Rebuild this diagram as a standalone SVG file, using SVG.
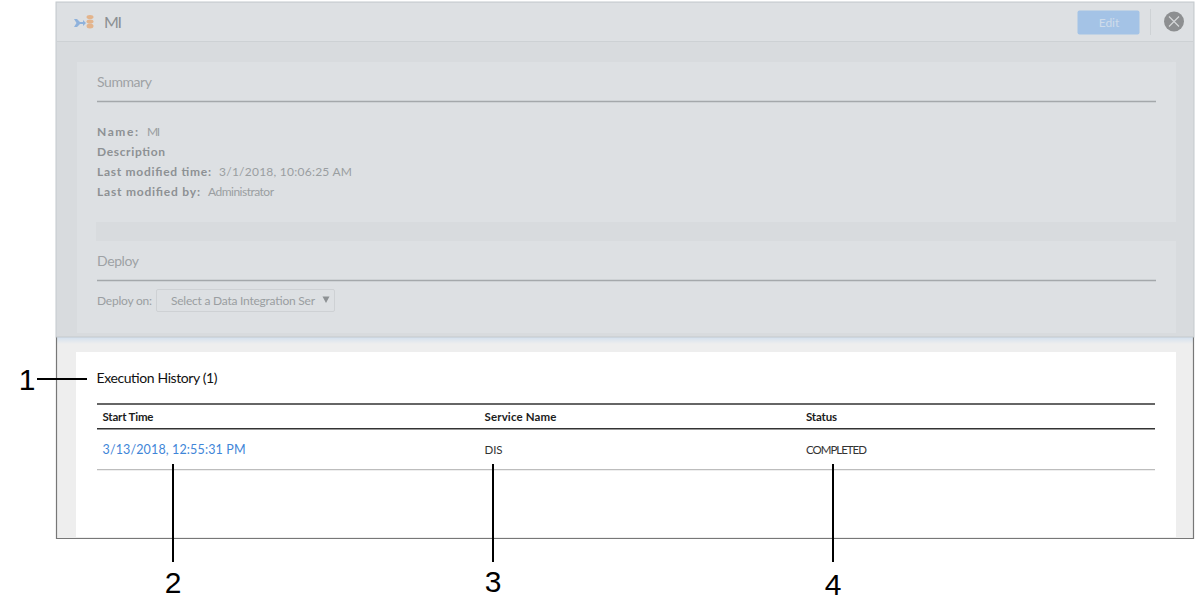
<svg xmlns="http://www.w3.org/2000/svg" width="1200" height="615" viewBox="0 0 1200 615">
<defs>
<linearGradient id="glow" x1="0" y1="0" x2="0" y2="1"><stop offset="0" stop-color="#d3e0ee"/><stop offset="1" stop-color="#eeeeee"/></linearGradient>
</defs>
<style>
text{font-family:"Lato","Liberation Sans",sans-serif}
.num{font-family:"Liberation Sans",Arial,sans-serif;font-size:30px;fill:#000;text-anchor:middle}
.faded{fill:#9a9ea1;font-size:12px}
.fadedb{fill:#8d9194;font-size:12px;font-weight:700}
.head{fill:#9ea2a5;font-size:14px}
.th{fill:#1c1c1c;font-size:11.5px;font-weight:700}
.td{fill:#333;font-size:11.5px}
.rule{stroke-width:1.5;fill:none}
.lead{stroke:#000;stroke-width:2;fill:none}
</style>
<rect width="1200" height="615" fill="#fff"/>
<g id="page">
<rect x="57" y="337" width="1136" height="201" fill="#eeeeee"/>
<rect x="57" y="337" width="1136" height="7" fill="url(#glow)"/>
<rect x="76" y="352" width="1100" height="185" fill="#fff"/>
<path d="M56.500 337V538.500H1193.500V337" fill="none" stroke="#777" stroke-width="1.200"/>
</g>
<g id="panel">
<rect x="56" y="2" width="1138" height="335" fill="#d8dbde" stroke="#c4c9cd" stroke-width="1"/>
<rect x="57" y="3" width="1136" height="38" fill="#dde0e3"/>
<path d="M57 41.500H1193" stroke="#cdd1d4" stroke-width="1.200"/>
<rect x="77" y="62" width="1099" height="271" fill="#dde0e3"/>
<rect x="96" y="222" width="1080" height="19" fill="#d8dbde"/>
</g>
<g id="title-icon">
<path d="M74 19h3l3 3h3v-2l3 3-3 3v-2h-3l-3 3h-3l2.500-4z" fill="#8fb2dc"/>
<ellipse cx="90" cy="17" rx="3.500" ry="2" fill="#e3b48c"/>
<ellipse cx="90" cy="21.500" rx="3.500" ry="2" fill="#e3b48c"/>
<ellipse cx="90" cy="26" rx="3.500" ry="2.500" fill="#e3b48c"/>
</g>
<g id="title"><text x="104" y="28" textLength="18" style="font-size:16px;fill:#8b8f92">MI</text></g>
<g id="edit-button">
<rect x="1077.500" y="10.500" width="62" height="24" rx="2" fill="#a4c3e6"/>
<text x="1109" y="27" text-anchor="middle" style="font-size:12px;fill:#cfdcea">Edit</text>
<path d="M1150.500 9V35" stroke="#ced2d5"/>
</g>
<g id="close-button">
<circle cx="1174" cy="21.500" r="10" fill="#8d8f91"/>
<path d="M1169 16.500l10 10M1179 16.500l-10 10" stroke="#d5d7d9" stroke-width="1.200"/>
</g>
<g id="summary">
<text class="head" x="97" y="87" textLength="55">Summary</text>
<path class="rule" d="M97 101.500H1156" stroke="#a4a8ab"/>
<text class="fadedb" x="97" y="136" textLength="41">Name:</text><text class="faded" x="147" y="136" textLength="13">MI</text>
<text class="fadedb" x="97" y="156" textLength="68">Description</text>
<text class="fadedb" x="97" y="176" textLength="114">Last modified time:</text><text class="faded" x="219" y="176" textLength="133">3/1/2018, 10:06:25 AM</text>
<text class="fadedb" x="97" y="196" textLength="103">Last modified by:</text><text class="faded" x="208" y="196" textLength="66">Administrator</text>
</g>
<g id="deploy">
<text class="head" x="97" y="266" textLength="42">Deploy</text>
<path class="rule" d="M97 280.500H1156" stroke="#a4a8ab"/>
<text class="faded" x="97" y="305" textLength="55">Deploy on:</text>
<rect x="156.500" y="289.500" width="178" height="22" rx="1.500" fill="#dde0e3" stroke="#ced1d4"/>
<text class="faded" x="171" y="305" textLength="144">Select a Data Integration Ser</text>
<path d="M322.500 296.500h7l-3.500 6.500z" fill="#8d9194"/>
</g>
<g id="execution-history">
<text x="96.500" y="383" textLength="121" style="font-size:14px;fill:#111">Execution History (1)</text>
<path class="rule" d="M97 404H1155" stroke="#333"/>
<path class="rule" d="M97 428.700H1155" stroke="#333"/>
<path d="M97 469.700H1155" stroke="#bdbdbd" stroke-width="1.200"/>
<text class="th" x="102.500" y="421" textLength="51">Start Time</text>
<text class="th" x="484.500" y="421" textLength="72">Service Name</text>
<text class="th" x="806" y="421" textLength="31">Status</text>
<text x="102.500" y="454" textLength="143" style="font-size:12.500px;fill:#3f86d8">3/13/2018, 12:55:31 PM</text>
<text class="td" x="484.500" y="454" textLength="18">DIS</text>
<text class="td" x="806" y="454" textLength="61">COMPLETED</text>
</g>
<g id="connectors">
<path class="lead" d="M37 379H87"/>
<path class="lead" d="M173 464V562"/>
<path class="lead" d="M493 464V562"/>
<path class="lead" d="M833 464V562"/>
</g>
<g id="callouts">
<text class="num" x="27" y="390">1</text>
<text class="num" x="173" y="593">2</text>
<text class="num" x="493" y="592">3</text>
<text class="num" x="833" y="595">4</text>
</g>
</svg>
